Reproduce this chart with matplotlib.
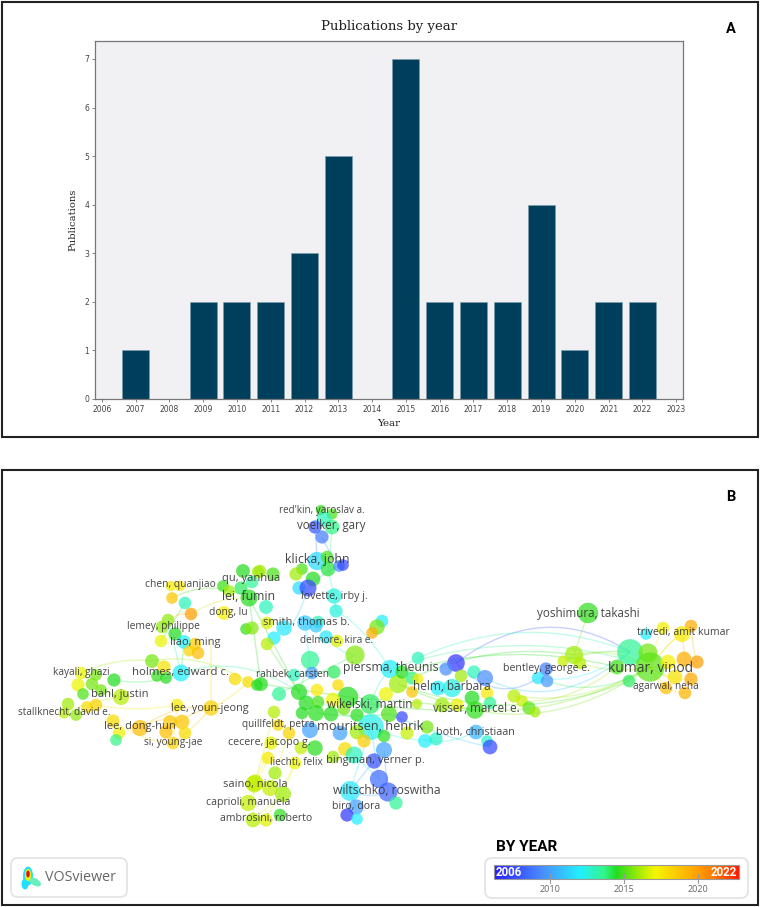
import numpy as np
import matplotlib
matplotlib.use("Agg")
import matplotlib.pyplot as plt
from matplotlib.colors import LinearSegmentedColormap, Normalize
from matplotlib.patches import Circle, Ellipse, FancyBboxPatch, PathPatch, Rectangle
from matplotlib.path import Path

W, H = 760, 907

# panel A
years = [2007, 2009, 2010, 2011, 2012, 2013, 2015, 2016, 2017, 2018, 2019, 2020, 2021, 2022]
publications = [1, 2, 2, 2, 3, 5, 7, 2, 2, 2, 4, 1, 2, 2]
year_ticks = list(range(2006, 2024))
pub_ticks = list(range(0, 8))

# panel B nodes, positions in picture pixels
node_x = [243, 258, 252, 223, 229, 241, 249, 171, 180, 172, 185, 191, 224, 246, 252, 168, 162, 175, 161, 184,
          195, 189, 198, 152, 164, 157, 166, 181, 235, 248, 81, 78, 92, 96, 114, 257, 83, 101, 121, 68,
          64, 76, 87, 96, 113, 119, 116, 140, 170, 182, 166, 185, 173, 177, 211, 254, 248, 253, 321, 332,
          324, 332, 315, 322, 317, 327, 328, 339, 343, 260, 273, 302, 296, 313, 299, 308, 334, 336, 266, 284,
          305, 318, 316, 267, 274, 267, 326, 337, 382, 377, 372, 355, 310, 334, 312, 294, 338, 418, 456, 390,
          446, 461, 474, 485, 398, 402, 412, 418, 261, 279, 299, 317, 348, 306, 318, 333, 370, 302, 316, 331,
          344, 357, 386, 389, 412, 417, 402, 274, 278, 289, 310, 340, 371, 357, 364, 384, 407, 427, 425, 436,
          438, 452, 442, 457, 472, 475, 487, 490, 476, 487, 490, 271, 301, 315, 345, 333, 354, 374, 384, 268,
          295, 275, 255, 270, 283, 379, 350, 388, 396, 356, 347, 357, 280, 266, 588, 663, 691, 682, 646, 574,
          563, 580, 630, 648, 650, 617, 668, 684, 697, 675, 691, 685, 666, 629, 546, 538, 547, 514, 522, 529,
          535]
node_y = [571, 572, 582, 586, 591, 588, 598, 586, 586, 598, 603, 614, 613, 629, 628, 620, 627, 634, 641, 642,
          644, 651, 653, 661, 667, 676, 678, 673, 679, 682, 673, 685, 684, 675, 680, 685, 694, 690, 697, 704,
          713, 715, 707, 705, 721, 733, 740, 728, 722, 722, 732, 733, 743, 705, 708, 784, 803, 820, 510, 514,
          519, 527, 527, 537, 561, 557, 569, 566, 565, 571, 574, 569, 574, 579, 588, 588, 596, 611, 607, 628,
          623, 622, 626, 623, 638, 644, 637, 641, 621, 627, 633, 655, 660, 672, 673, 675, 685, 658, 663, 669,
          669, 676, 672, 678, 684, 672, 678, 679, 684, 694, 692, 690, 697, 703, 702, 700, 704, 713, 713, 714,
          709, 715, 694, 714, 692, 704, 717, 712, 725, 733, 730, 733, 727, 732, 741, 736, 733, 727, 741, 739,
          688, 688, 705, 705, 698, 710, 693, 703, 732, 741, 747, 743, 748, 748, 749, 757, 755, 761, 750, 758,
          763, 773, 783, 788, 794, 779, 791, 792, 803, 807, 815, 819, 815, 820, 613, 628, 626, 634, 634, 655,
          661, 663, 652, 653, 667, 667, 662, 659, 662, 677, 679, 693, 688, 681, 669, 678, 681, 696, 701, 708,
          712]
node_r = [6.3, 5.7, 5.7, 5.3, 5.3, 6, 7.7, 4.7, 4.7, 5.3, 5.7, 5.7, 6.3, 5.3, 6, 5.7, 5.7, 6, 5.7, 6.3,
          5.7, 5, 5.7, 6.3, 6, 5.3, 5.3, 7.7, 5.7, 5.3, 5.7, 6, 5.7, 5.3, 6, 5.3, 5.3, 5.3, 7.3, 5.7,
          5, 5.3, 5.3, 5.7, 6, 5.7, 5.3, 7.3, 6.3, 6.7, 6, 5.7, 5.7, 5.7, 7, 7.7, 7.3, 6.7, 4.7, 5,
          6.7, 6.7, 6, 6, 8.3, 5.7, 6.7, 5.3, 5.3, 5.7, 6, 5.3, 6, 6.7, 6, 7.7, 7, 6, 6.3, 7,
          7, 5.7, 6, 5.7, 6, 5.7, 6, 5.7, 5.7, 7, 5.3, 8.7, 8.3, 6, 5.7, 5.7, 5.3, 5.7, 8, 8.3,
          6, 5.7, 6, 7.3, 8.3, 6, 6, 5, 6.3, 6.3, 7.3, 5.7, 9.3, 6.7, 5.7, 6.7, 9, 5.7, 7.3, 6.7,
          5.7, 6, 6.3, 7.3, 5.3, 4.7, 5.3, 5.7, 5.3, 5.7, 7.3, 6.7, 11.7, 6.7, 6, 5.7, 6, 6, 6.3, 6,
          6.7, 8.3, 6.7, 6, 6.7, 8, 5.7, 5.7, 6.7, 5.3, 6.7, 6, 5.7, 7, 6.3, 5.7, 7.7, 7, 7.3, 5.7,
          5.7, 6, 7.7, 7.3, 7.3, 8.3, 9, 8.7, 6, 7, 6, 5.3, 5.7, 6, 9.3, 5.7, 5.7, 7.3, 5.3, 8.3,
          5, 5.7, 11.7, 8.7, 13.3, 6.7, 6.7, 6.7, 6, 6.7, 6, 5.7, 5.7, 5.7, 6, 5.7, 5.7, 6, 5.3, 6,
          5]
node_year = [2014.5, 2016, 2013.5, 2014.8, 2016, 2014, 2014.5, 2017.5, 2017.5, 2018.7, 2013, 2020, 2017.3, 2014.8, 2015.7, 2015.8, 2015.8, 2014.5, 2017, 2012,
             2018.5, 2018.3, 2019, 2015.5, 2017.7, 2014.7, 2014.5, 2012, 2018, 2018, 2017, 2017, 2015.5, 2015.5, 2014.5, 2014.5, 2015, 2015.5, 2016.3, 2016,
             2016.3, 2015.8, 2018, 2018.3, 2018, 2017.3, 2013.7, 2019, 2018.7, 2018.7, 2019, 2018, 2018.2, 2017.5, 2018.3, 2016.4, 2016.4, 2016.3, 2014.8, 2015,
             2013, 2013.7, 2008, 2009, 2011.5, 2015, 2014.3, 2009.5, 2007.5, 2016, 2015, 2015, 2016, 2014.5, 2011.5, 2007.5, 2012.5, 2012.5, 2013, 2011.8,
             2011, 2013, 2011, 2016.7, 2012, 2016.3, 2011.8, 2016.8, 2012, 2015.5, 2019.5, 2015.7, 2013.5, 2014, 2010, 2013, 2018, 2013, 2007, 2012,
             2009.5, 2016, 2013, 2009.5, 2016, 2014.5, 2013.8, 2017.5, 2014.5, 2013.5, 2014.5, 2017.5, 2014.5, 2014.5, 2015, 2017, 2014, 2014.5, 2014.6, 2014.5,
             2015.5, 2014.6, 2017, 2015, 2018.7, 2016.3, 2007.5, 2016.3, 2018, 2018.3, 2010, 2010, 2012.3, 2016, 2018.5, 2014.6, 2016.5, 2015.5, 2012, 2012.7,
             2012, 2012.3, 2016, 2017, 2014.5, 2014.7, 2017.5, 2013.5, 2010.5, 2012.7, 2007.5, 2017, 2016.4, 2014.6, 2018, 2016, 2013, 2007.8, 2010, 2017.5,
             2017, 2016, 2016.4, 2016.4, 2016, 2008.5, 2011.8, 2008.3, 2013.5, 2010, 2007, 2012, 2014.7, 2016.8, 2014.7, 2017.3, 2019.5, 2017.5, 2012, 2016,
             2016.5, 2016.3, 2013.5, 2015.5, 2015.2, 2015, 2017.3, 2019.5, 2020, 2017.7, 2019.7, 2019.3, 2019, 2014, 2009, 2011.8, 2009.8, 2016.3, 2016.5, 2015.2,
             2016]

# panel B links: from, to, sideways bulge, year
link_x0 = [456, 418, 390, 402, 412, 574, 563, 580, 475, 398, 442, 485, 456, 538, 547, 514, 522, 588,
           650, 650, 650, 650, 650, 650, 650, 650, 650, 682, 691,
           315, 322, 332, 308, 308, 334, 328, 336, 305, 326,
           249, 249, 185, 168, 191, 152, 181, 114, 81, 121, 96, 211, 140, 140, 166, 173, 113, 121, 177, 184, 211,
           255, 270, 283, 248, 253, 254, 254, 266,
           350, 350, 379, 388, 388, 356, 379, 299, 370, 370, 348, 316, 261, 279, 310, 267, 249, 249, 425, 371, 389, 398]
link_y0 = [663, 658, 669, 672, 678, 655, 661, 663, 710, 684, 705, 678, 663, 678, 681, 696, 701, 613,
           667, 667, 667, 667, 667, 667, 667, 667, 667, 634, 626,
           527, 537, 527, 588, 588, 596, 569, 611, 623, 637,
           598, 598, 603, 620, 614, 661, 673, 680, 673, 697, 705, 708, 728, 728, 732, 743, 721, 697, 705, 642, 708,
           783, 788, 794, 803, 820, 784, 784, 820,
           791, 791, 779, 792, 792, 807, 779, 692, 704, 704, 697, 713, 684, 694, 660, 644, 598, 598, 741, 727, 714, 684]
link_x1 = [630, 630, 650, 617, 574, 650, 630, 650, 650, 629, 650, 630, 538, 630, 650, 650, 617, 574,
           691, 682, 663, 697, 684, 691, 685, 666, 675, 691, 697,
           317, 343, 328, 339, 284, 336, 334, 390, 310, 355,
           191, 172, 161, 181, 168, 248, 299, 181, 152, 81, 177, 248, 211, 182, 211, 211, 173, 64, 173, 181, 211,
           271, 289, 301, 268, 283, 253, 274, 295,
           371, 374, 371, 384, 350, 350, 354, 371, 475, 390, 442, 389, 348, 355, 299, 306, 261, 299, 476, 436, 490, 475]
link_y1 = [652, 652, 667, 667, 655, 667, 652, 667, 667, 681, 667, 652, 678, 652, 667, 667, 667, 655,
           626, 634, 628, 662, 659, 679, 693, 688, 677, 679, 662,
           561, 565, 569, 566, 628, 611, 596, 669, 660, 655,
           614, 598, 641, 673, 620, 682, 692, 673, 661, 673, 705, 682, 708, 722, 708, 708, 743, 713, 743, 673, 640,
           743, 733, 748, 758, 794, 820, 712, 763,
           727, 761, 727, 750, 791, 791, 755, 727, 710, 669, 705, 714, 697, 655, 692, 703, 684, 692, 732, 739, 747, 710]
link_bend = [-60, -45, -45, -30, -25, -15, -8, 10, 40, 45, 40, 50, 35, 20, 25, 25, 20, 0,
             -8, -6, -10, 6, 4, 10, 14, 8, 5, 20, 14,
             -8, 10, 12, -5, 20, 0, 0, -15, 0, 8,
             -10, -20, 0, 0, -5, -20, -30, 10, -10, 8, 8, 5, -15, -10, -8, 5, 10, -5, 0, 0, 4,
             0, 0, 0, 0, 0, 0, 4, 0,
             0, 0, 0, 5, 8, 0, 0, 0, 5, -8, 0, 5, 0, 0, 0, 0, 0, 0, 8, 10, 6, 5]
link_year = [2008, 2013, 2013.5, 2014.5, 2014.5, 2016, 2015, 2016, 2015.5, 2015, 2015.5, 2011, 2009, 2012, 2014, 2016, 2016, 2015.5,
             2017.5, 2017.5, 2017.3, 2018, 2018, 2018, 2018, 2018, 2017.5, 2019, 2019,
             2009, 2009.5, 2013.5, 2010, 2011, 2012.5, 2012.5, 2012.5, 2012, 2012,
             2016.5, 2015, 2015, 2013, 2019, 2016, 2013.5, 2014, 2016, 2016, 2017.5, 2018, 2019, 2019, 2019, 2018.5, 2018, 2016.5, 2018, 2014, 2018.5,
             2017, 2017, 2017, 2017, 2016.8, 2016.5, 2016.5, 2017,
             2011.8, 2010, 2011, 2010, 2010, 2011, 2012, 2013, 2014.5, 2013, 2015, 2014.5, 2014.5, 2014, 2014, 2015, 2014.5, 2014.5, 2012.5, 2012.5, 2011, 2015]

# panel B labels
label_names = ["red'kin, yaroslav a.", "voelker, gary", "klicka, john", "lovette, irby j.", "smith, thomas b.",
               "delmore, kira e.", "rahbek, carsten", "piersma, theunis", "helm, barbara", "wikelski, martin",
               "visser, marcel e.", "mouritsen, henrik", "both, christiaan", "quillfeldt, petra", "cecere, jacopo g.",
               "liechti, felix", "bingman, verner p.", "wiltschko, roswitha", "biro, dora", "saino, nicola",
               "caprioli, manuela", "ambrosini, roberto", "chen, quanjiao", "qu, yanhua", "lei, fumin",
               "dong, lu", "lemey, philippe", "liao, ming", "kayali, ghazi", "holmes, edward c.",
               "bahl, justin", "stallknecht, david e.", "lee, youn-jeong", "lee, dong-hun", "si, young-jae",
               "yoshimura, takashi", "trivedi, amit kumar", "kumar, vinod", "bentley, george e.", "agarwal, neha"]
label_x = [322, 331, 317, 334, 306, 337, 293, 391, 452, 370, 476, 370, 475, 278, 269, 296, 375, 387, 356, 255,
           248, 266, 180, 251, 249, 228, 163, 195, 81, 181, 120, 64, 210, 140, 173, 588, 683, 651, 546, 666]
label_y = [510, 526, 559, 596, 623, 640, 674, 668, 686, 704, 708, 726, 732, 725, 742, 762, 761, 791, 806, 784,
           803, 819, 585, 579, 597, 612, 627, 643, 672, 672, 695, 712, 708, 727, 742, 613, 633, 668, 668, 687]
label_size = [7.1, 8.3, 8.9, 7.7, 7.9, 7.2, 7.2, 8.8, 8.5, 8.5, 8.4, 9.2, 7.8, 7.3, 7.7, 7.2, 8.0, 8.7, 7.6, 8.0,
              7.6, 7.6, 7.4, 8.0, 8.8, 7.4, 7.4, 8.0, 7.2, 8.2, 8.0, 7.2, 7.8, 8.0, 7.2, 8.4, 7.6, 10.0, 7.6, 7.2]

# colour legend
cbar_ticks = [2010, 2015, 2020]
year_min, year_max = 2006.2, 2022.8
stop_pos = [0.0, 0.2, 0.35, 0.45, 0.5, 0.62, 0.66, 0.8, 0.9, 1.0]
stop_col = ["#2a1cff", "#4a90ff", "#22f0ff", "#33f58a", "#22dd22", "#c8f000", "#f5f500", "#ffb000", "#ff7a00", "#ff1a00"]

cmap = LinearSegmentedColormap.from_list("vos", list(zip(stop_pos, stop_col)))
norm = Normalize(year_min, year_max)


def px_axes(fig, left, top, right, bottom):
    return fig.add_axes([left / W, 1 - bottom / H, (right - left) / W, (bottom - top) / H])


fig = plt.figure(figsize=(W / 100, H / 100), dpi=100)

bg = fig.add_axes([0, 0, 1, 1])
bg.set_xlim(0, W)
bg.set_ylim(H, 0)
bg.axis("off")

# the two panel frames
bg.add_patch(Rectangle((2, 2), 755.5, 435, fill=False, ec="#222222", lw=1.5))
bg.add_patch(Rectangle((2, 470), 755.5, 435, fill=False, ec="#222222", lw=1.5))
bg.text(731, 29, "A", fontsize=10.5, fontweight="bold", family="Roboto", ha="center", va="center", color="black")
bg.text(731, 497, "B", fontsize=10.5, fontweight="bold", family="Roboto", ha="center", va="center", color="black")

# panel A bars
ax = px_axes(fig, 95, 41, 683, 399)
ax.set_facecolor("#f1f1f4")
ax.bar(years, publications, width=0.8, color="#003f5c", edgecolor="#7f9fae", linewidth=0.4)
ax.set_xlim(2005.8, 2023.2)
ax.set_ylim(0, 7.37)
ax.set_xticks(year_ticks)
ax.set_yticks(pub_ticks)
ax.tick_params(labelsize=5.5, length=2, width=0.5, color="#555555", labelcolor="#444444", pad=2)
ax.set_title("Publications by year", family="DejaVu Serif", fontsize=9.5, pad=8, color="#222222")
ax.set_xlabel("Year", family="DejaVu Serif", fontsize=7.4, labelpad=4, color="#222222")
ax.set_ylabel("Publications", family="DejaVu Serif", fontsize=7.2, labelpad=5, color="#222222")
for s in ax.spines.values():
    s.set_color("#777777")
    s.set_linewidth(0.9)

# panel B links
for x0, y0, x1, y1, b, yr in zip(link_x0, link_y0, link_x1, link_y1, link_bend, link_year):
    cx, cy = (x0 + x1) / 2, (y0 + y1) / 2 + b
    p = Path([(x0, y0), (cx, cy), (x1, y1)], [Path.MOVETO, Path.CURVE3, Path.CURVE3])
    bg.add_patch(PathPatch(p, fill=False, ec=cmap(norm(yr)), lw=1.0, alpha=0.28, zorder=2))

# panel B nodes
for x, y, r, yr in zip(node_x, node_y, node_r, node_year):
    bg.add_patch(Circle((x, y), r * 1.1, fc=cmap(norm(yr)), ec="none", alpha=0.72, zorder=3))

for name, x, y, fs in zip(label_names, label_x, label_y, label_size):
    bg.text(x, y, name, fontsize=fs, family="Open Sans", ha="center", va="center", color="#333333", alpha=0.9, zorder=4)

# VOSviewer logo box
bg.add_patch(FancyBboxPatch((11, 858), 116, 39, boxstyle="round,pad=0,rounding_size=7", fc="white", ec="#e2e2e2", lw=1.2, zorder=5))
bg.add_patch(Ellipse((28, 876), 10, 19, fc="#22e0ff", ec="none", zorder=6))
bg.add_patch(Ellipse((25, 884), 7, 11, fc="#22e0ff", ec="none", zorder=6))
bg.add_patch(Ellipse((35, 882), 13, 7, angle=30, fc="#66eebb", ec="none", zorder=6))
bg.add_patch(Ellipse((28, 875), 6, 12, fc="#f5f500", ec="none", zorder=6))
bg.add_patch(Ellipse((28, 874), 3.5, 7, fc="#e01010", ec="none", zorder=6))
bg.text(45, 877.5, "VOSviewer", fontsize=10.3, family="Open Sans", ha="left", va="center", color="#666666", zorder=6)

# colour legend
bg.text(496, 847, "BY YEAR", fontsize=11, fontweight="bold", family="Roboto", ha="left", va="center", color="black")
bg.add_patch(FancyBboxPatch((485, 858), 263, 40, boxstyle="round,pad=0,rounding_size=7", fc="white", ec="#e2e2e2", lw=1.2, zorder=5))
grad = np.linspace(year_min, year_max, 256).reshape(1, -1)
bg.imshow(grad, cmap=cmap, norm=norm, extent=(494, 739, 879, 865), aspect="auto", zorder=6)
bg.set_xlim(0, W)
bg.set_ylim(H, 0)
bg.add_patch(Rectangle((494, 865), 245, 14, fill=False, ec="#999999", lw=0.8, zorder=7))
bg.text(496, 873, "2006", fontsize=8.3, fontweight="bold", family="Roboto", color="white", ha="left", va="center", zorder=8)
bg.text(737, 873, "2022", fontsize=8.3, fontweight="bold", family="Roboto", color="white", ha="right", va="center", zorder=8)
for t in cbar_ticks:
    tx = 494 + (t - year_min) / (year_max - year_min) * 245
    bg.plot([tx, tx], [874, 883], color="#999999", lw=0.8, zorder=8)
    bg.text(tx, 890, str(t), fontsize=6.5, family="Open Sans", color="#666666", ha="center", va="center", zorder=8)

fig.savefig("out.png", dpi=100)
